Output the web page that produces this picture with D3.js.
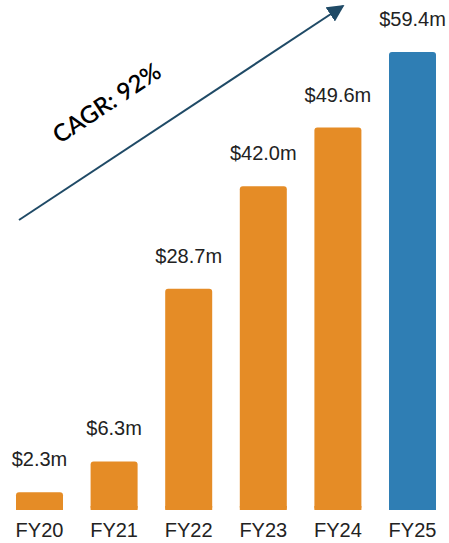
<!doctype html>
<html>
<head>
  <meta charset="utf-8">
  <title>Revenue FY20 - FY25</title>
  <script src="https://d3js.org/d3.v7.min.js"></script>
  <style>
    body { margin: 0; background: #fff; }
  </style>
</head>
<body>
<svg id="chart" width="449" height="543"></svg>
<script>

// Chart data
const years = ["FY20", "FY21", "FY22", "FY23", "FY24", "FY25"];
const revenue = [2.3, 6.3, 28.7, 42.0, 49.6, 59.4];
const cagrLabel = "CAGR: 92%";

const svg = d3.select("#chart");

// Scales
const x = d3.scaleBand()
  .domain(years)
  .range([16, 436])
  .paddingInner(0.37)
  .paddingOuter(0);

const y = d3.scaleLinear()
  .domain([0, 59.4])
  .range([510, 52]);

const data = years.map((d, i) => ({ year: d, value: revenue[i] }));
const barColor = (d, i) => i === data.length - 1 ? "#2f7eb4" : "#e58c26";

// Bars - last year in blue
svg.append("g")
  .selectAll("rect")
  .data(data)
  .join("rect")
    .attr("x", d => x(d.year))
    .attr("y", d => y(d.value))
    .attr("width", x.bandwidth())
    .attr("height", d => y(0) - y(d.value))
    .attr("rx", 3)
    .attr("fill", barColor);

// cover the rounded bottom corners
svg.append("g")
  .selectAll("rect")
  .data(data)
  .join("rect")
    .attr("x", d => x(d.year))
    .attr("y", d => Math.max(y(d.value) + 3, y(0) - 4))
    .attr("width", x.bandwidth())
    .attr("height", d => y(0) - Math.max(y(d.value) + 3, y(0) - 4))
    .attr("fill", barColor);

// Value labels
svg.append("g")
  .selectAll("text")
  .data(data)
  .join("text")
    .attr("x", d => x(d.year) + x.bandwidth() / 2)
    .attr("y", d => y(d.value) - 26)
    .attr("text-anchor", "middle")
    .attr("font-family", "Liberation Sans, Arial, sans-serif")
    .attr("font-size", "20px")
    .attr("fill", "#222")
    .text(d => "$" + d.value.toFixed(1) + "m");

// X axis (labels only)
const xAxis = svg.append("g")
  .attr("transform", `translate(0, ${y(0)})`)
  .call(d3.axisBottom(x).tickSize(0).tickPadding(13));
xAxis.select(".domain").remove();
xAxis.selectAll("text")
  .attr("font-family", "Liberation Sans, Arial, sans-serif")
  .attr("font-size", "20px")
  .attr("fill", "#222");

// CAGR arrow
svg.append("defs").append("marker")
  .attr("id", "arrowhead")
  .attr("viewBox", "0 0 10 10")
  .attr("refX", 9)
  .attr("refY", 5)
  .attr("markerWidth", 8.5)
  .attr("markerHeight", 8.5)
  .attr("markerUnits", "strokeWidth")
  .attr("orient", "auto")
  .append("path")
    .attr("d", "M0,0 L10,5 L0,10 Z")
    .attr("fill", "#1f4a66");

svg.append("line")
  .attr("x1", 19)
  .attr("y1", 220)
  .attr("x2", 343)
  .attr("y2", 6)
  .attr("stroke", "#1f4a66")
  .attr("stroke-width", 2)
  .attr("marker-end", "url(#arrowhead)");

svg.append("text")
  .attr("transform", "translate(108, 105) rotate(-33.5)")
  .attr("text-anchor", "middle")
  .attr("dominant-baseline", "middle")
  .attr("font-family", "Lato, sans-serif")
  .attr("font-weight", "600")
  .attr("font-size", "24px")
  .attr("fill", "#000")
  .text(cagrLabel);

</script>
</body>
</html>
